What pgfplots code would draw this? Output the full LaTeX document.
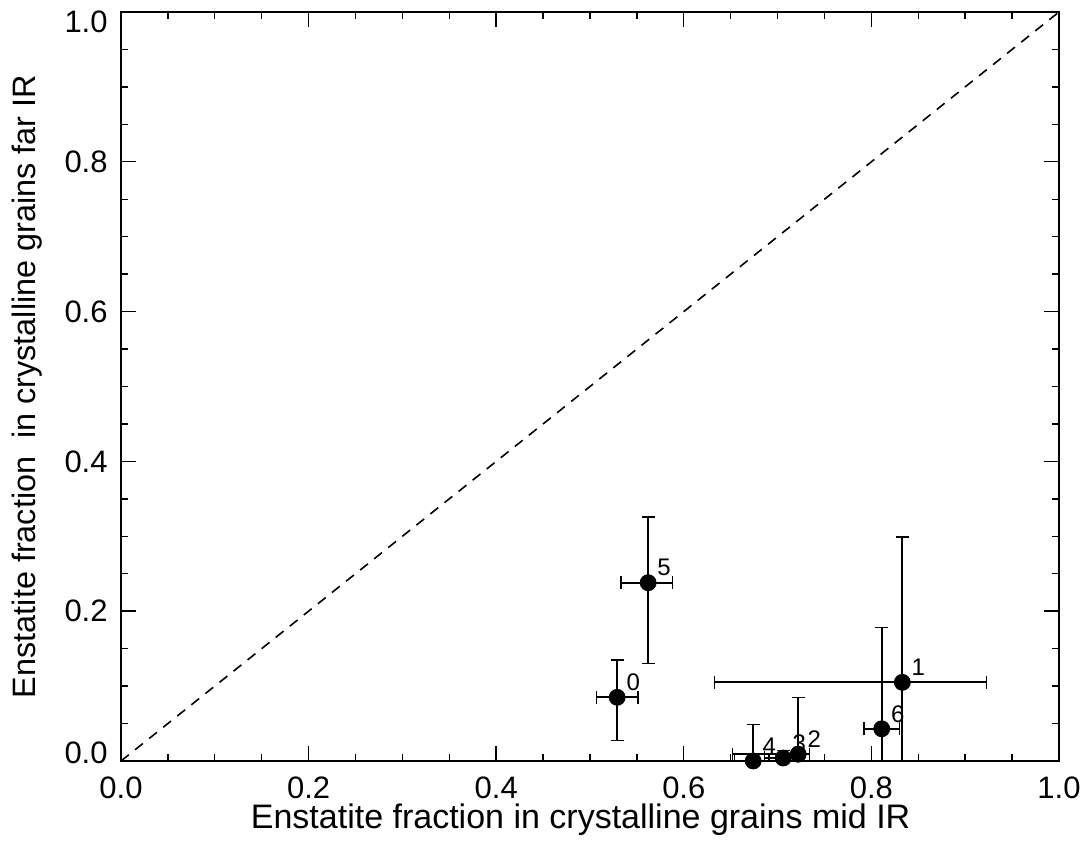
\documentclass[border=0pt]{standalone}
\usepackage{fontspec}
\setmainfont{Liberation Sans}
\usepackage{pgfplots}
\pgfplotsset{compat=1.18}

\pgfplotstableread{
x      y      exm    exp    eym    eyp    lab
0.529  0.085  0.022  0.022  0.058  0.050  0
0.833  0.105  0.200  0.090  0.200  0.194  1
0.722  0.009  0.070  0.012  0.020  0.076  2
0.706  0.004  0.020  0.020  0.010  0.010  3
0.674  0.000  0.020  0.017  0.020  0.049  4
0.562  0.238  0.029  0.026  0.108  0.088  5
0.811  0.043  0.019  0.019  0.100  0.135  6
}\enstatite

\begin{document}
\begin{tikzpicture}
\useasboundingbox (-60.5pt,-46.5pt) rectangle (484pt,380.5pt);
\begin{axis}[
    at={(0,0)}, anchor=origin,
    scale only axis,
    width=469pt, height=374.5pt,
    xmin=0, xmax=1, ymin=0, ymax=1,
    xtick={0,0.2,...,1.0}, ytick={0,0.2,...,1.0},
    minor tick num=3,
    major tick length=7.5pt, minor tick length=3.5pt,
    tick align=inside,
    tick style={black, line width=0.7pt},
    axis line style={line width=1pt},
    xticklabel style={font=\fontsize{15.5}{17}\selectfont, anchor=center, inner sep=0pt, yshift=-13.5pt},
    yticklabel style={font=\fontsize{15.5}{17}\selectfont, anchor=east, inner sep=0pt, xshift=-6.5pt},
    yticklabel={\ifnum\ticknum=0 \raisebox{4pt}[\height][\depth]{\pgfmathprintnumber{\tick}}\else\ifnum\ticknum=5 \raisebox{-5pt}[\height][\depth]{\pgfmathprintnumber{\tick}}\else\pgfmathprintnumber{\tick}\fi\fi},
    /pgf/number format/assume math mode=true,
    /pgf/number format/.cd, fixed, fixed zerofill, precision=1, /pgfplots/.cd,
    xlabel={Enstatite fraction in crystalline grains mid IR},
    ylabel={Enstatite fraction \ in crystalline grains far IR},
    every axis x label/.style={at={(axis description cs:0.49,-0.0788)}, anchor=center, inner sep=0pt, font=\fontsize{17}{19}\selectfont},
    every axis y label/.style={at={(axis description cs:-0.1002,0.5)}, anchor=center, inner sep=0pt, rotate=90, font=\fontsize{16.2}{18}\selectfont},
    clip mode=individual,
]
\addplot[black, line width=0.8pt, dash pattern=on 5pt off 4pt] coordinates {(0,0) (1,1)};
\addplot[
    only marks, black,
    mark=*, mark size=4pt,
    error bars/.cd,
      x dir=both, x explicit,
      y dir=both, y explicit,
      error bar style={line width=0.9pt, black},
      error mark options={rotate=90, mark size=3.25pt, line width=0.7pt, black},
] table[x=x, y=y, x error plus=exp, x error minus=exm, y error plus=eyp, y error minus=eym] {\enstatite};
\addplot[
    only marks, mark=none,
    nodes near coords,
    point meta=explicit symbolic,
    nodes near coords align={anchor=center, xshift=8pt, yshift=7.5pt},
    every node near coord/.append style={font=\fontsize{12}{13}\selectfont, inner sep=0pt, black},
] table[x=x, y=y, meta=lab] {\enstatite};
\end{axis}
\end{tikzpicture}
\end{document}
